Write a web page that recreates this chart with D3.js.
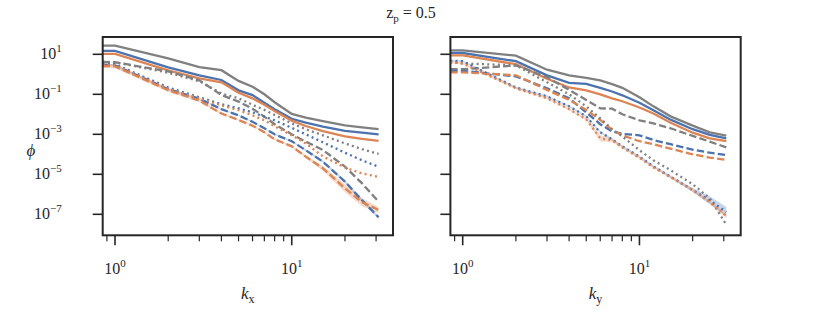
<!DOCTYPE html>
<html>
<head>
<meta charset="utf-8">
<script src="https://cdn.jsdelivr.net/npm/d3@7"></script>
<style>
  body { margin: 0; background: #fff; }
  svg text { font-family: "Liberation Serif", "DejaVu Serif", serif; fill: #262626; }
</style>
</head>
<body>
<div id="chart"></div>
<script>
// wavenumbers (first point sits at the left edge of the axis)
const kValues = [0.85, 1, 2, 3, 4, 5, 6, 7, 8, 10, 12, 15, 20, 25, 31];

// --- k_x panel ---
const kxGraySolid   = [27, 27, 6.3, 2.3, 1.6, 0.47, 0.24, 0.1, 0.04, 1.05e-2, 6.8e-3, 4.5e-3, 2.8e-3, 2.2e-3, 1.8e-3];
const kxBlueSolid   = [14.8, 14.8, 2.24, 0.89, 0.52, 0.158, 0.091, 0.038, 0.018, 6.0e-3, 3.8e-3, 2.4e-3, 1.5e-3, 1.2e-3, 1.0e-3];
const kxOrangeSolid = [10.5, 10.5, 1.58, 0.63, 0.4, 0.12, 0.063, 0.03, 0.0145, 4.8e-3, 2.6e-3, 1.45e-3, 7.9e-4, 5.9e-4, 4.7e-4];
const kxGrayDash    = [4.2, 4.0, 1.4, 0.5, 0.093, 0.043, 0.019, 7.6e-3, 3.2e-3, 1.0e-3, 4.3e-4, 1.66e-4, 2.4e-5, 3.5e-6, 4.3e-7];
const kxBlueDash    = [3.0, 2.8, 0.18, 0.06, 0.018, 8.9e-3, 4.2e-3, 2.0e-3, 1.0e-3, 4.5e-4, 1.6e-4, 4.3e-5, 4.3e-6, 5.0e-7, 7.1e-8];
const kxOrangeDash  = [2.6, 2.5, 0.16, 0.048, 0.011, 5.2e-3, 2.7e-3, 1.26e-3, 5.6e-4, 2.5e-4, 7.6e-5, 2.0e-5, 2.0e-6, 4.0e-7, 1.66e-7];
const kxGrayDot     = [4.2, 4.0, 1.2, 0.45, 0.11, 0.063, 0.03, 0.0166, 9.3e-3, 3.5e-3, 1.8e-3, 8.9e-4, 3.5e-4, 1.8e-4, 1.05e-4];
const kxBlueDot     = [3.3, 3.2, 0.22, 0.071, 0.032, 0.02, 0.0126, 7.6e-3, 5.0e-3, 2.1e-3, 1.0e-3, 4.0e-4, 1.2e-4, 5.0e-5, 2.4e-5];
const kxOrangeDot   = [3.0, 2.8, 0.19, 0.063, 0.028, 0.016, 8.9e-3, 5.0e-3, 2.5e-3, 8.9e-4, 3.5e-4, 7.9e-5, 2.2e-5, 1.1e-5, 7.4e-6];

// --- k_y panel ---
const kyGraySolid   = [15.8, 15.8, 8.5, 1.7, 0.89, 0.66, 0.5, 0.32, 0.21, 0.071, 0.025, 7.9e-3, 2.7e-3, 1.26e-3, 8.7e-4];
const kyBlueSolid   = [11.7, 11.6, 4.5, 0.89, 0.37, 0.33, 0.21, 0.138, 0.089, 0.038, 0.0158, 5.4e-3, 1.8e-3, 9.3e-4, 6.3e-4];
const kyOrangeSolid = [8.9, 8.9, 3.2, 0.6, 0.22, 0.158, 0.1, 0.063, 0.045, 0.022, 0.011, 3.8e-3, 1.2e-3, 6.3e-4, 4.6e-4];
const kyGrayDash    = [1.8, 1.8, 2.8, 0.71, 0.166, 0.052, 0.02, 0.019, 0.01, 5.0e-3, 3.5e-3, 2.0e-3, 8.3e-4, 4.3e-4, 2.2e-4];
const kyBlueDash    = [1.5, 1.5, 0.79, 0.2, 0.063, 0.0126, 3.2e-3, 1.4e-3, 1.05e-3, 8.9e-4, 5.2e-4, 3.2e-4, 1.7e-4, 1.2e-4, 9.2e-5];
const kyOrangeDash  = [1.26, 1.26, 0.89, 0.166, 0.052, 0.0166, 5.2e-3, 1.66e-3, 8.9e-4, 4.5e-4, 3.2e-4, 1.9e-4, 1.0e-4, 6.8e-5, 5.2e-5];
const kyGrayDot     = [4.0, 3.5, 2.8, 0.4, 0.1, 0.025, 6.3e-3, 1.8e-3, 7.9e-4, 1.6e-4, 5.0e-5, 1.6e-5, 3.2e-6, 6.3e-7, 3.0e-8];
const kyBlueDot     = [4.8, 4.5, 0.22, 0.079, 0.025, 7.9e-3, 1.26e-3, 5.6e-4, 2.5e-4, 7.6e-5, 2.5e-5, 7.6e-6, 1.66e-6, 5.0e-7, 1.3e-7];
const kyOrangeDot   = [4.0, 3.5, 0.2, 0.063, 0.018, 5.6e-3, 6.3e-4, 5.0e-4, 2.2e-4, 6.6e-5, 2.2e-5, 7.1e-6, 1.6e-6, 4.0e-7, 8.3e-8];

// spread of the shaded bands, in decades either side of the line
const kxOrangeDashBand = [0.1, 0.1, 0.09, 0.07, 0.05, 0.04, 0.04, 0.04, 0.04, 0.05, 0.07, 0.12, 0.2, 0.2, 0.15];
const kxBlueDashBand   = [0.06, 0.06, 0.06, 0.05, 0.04, 0.03, 0.03, 0.03, 0.03, 0.04, 0.05, 0.06, 0.08, 0.08, 0.08];
const kyOrangeDotBand  = [0.05, 0.05, 0.05, 0.05, 0.05, 0.06, 0.16, 0.08, 0.05, 0.05, 0.05, 0.05, 0.06, 0.08, 0.1];
const kyBlueDotBand    = [0.04, 0.04, 0.04, 0.04, 0.04, 0.04, 0.05, 0.05, 0.05, 0.05, 0.05, 0.06, 0.1, 0.2, 0.25];

const yTicks = [1e1, 1e-1, 1e-3, 1e-5, 1e-7];
const xMajorTicks = [1, 10];
const xMinorTicks = [0.9, 2, 3, 4, 5, 6, 7, 8, 9, 20, 30];

const colors = { gray: '#808080', blue: '#4c72b0', orange: '#dd8452' };
const dashes = { solid: null, dash: '7.4,3.2', dot: '2,3.3' };

const panels = [
  {
    axis: 'x', left: 102.7,
    series: [
      { c: 'gray', s: 'solid', v: kxGraySolid }, { c: 'blue', s: 'solid', v: kxBlueSolid }, { c: 'orange', s: 'solid', v: kxOrangeSolid },
      { c: 'gray', s: 'dash', v: kxGrayDash }, { c: 'blue', s: 'dash', v: kxBlueDash, band: kxBlueDashBand },
      { c: 'orange', s: 'dash', v: kxOrangeDash, band: kxOrangeDashBand },
      { c: 'gray', s: 'dot', v: kxGrayDot }, { c: 'blue', s: 'dot', v: kxBlueDot }, { c: 'orange', s: 'dot', v: kxOrangeDot },
    ],
  },
  {
    axis: 'y', left: 450.4,
    series: [
      { c: 'gray', s: 'solid', v: kyGraySolid }, { c: 'blue', s: 'solid', v: kyBlueSolid }, { c: 'orange', s: 'solid', v: kyOrangeSolid },
      { c: 'gray', s: 'dash', v: kyGrayDash }, { c: 'blue', s: 'dash', v: kyBlueDash }, { c: 'orange', s: 'dash', v: kyOrangeDash },
      { c: 'gray', s: 'dot', v: kyGrayDot }, { c: 'blue', s: 'dot', v: kyBlueDot, band: kyBlueDotBand },
      { c: 'orange', s: 'dot', v: kyOrangeDot, band: kyOrangeDotBand },
    ],
  },
];

const width = 822, height = 313;
const plotTop = 37, plotW = 290.3, plotH = 198.3;
const ink = '#262626';

const svg = d3.select('#chart').append('svg').attr('width', width).attr('height', height);

const x = d3.scaleLog().domain([0.852, 37.4]).range([0, plotW]);
const y = d3.scaleLog().domain([Math.pow(10, -8.05), Math.pow(10, 1.865)]).range([plotH, 0]);

// "10^n" label helper
function powLabel(sel, v) {
  const e = Math.round(Math.log10(v));
  sel.append('tspan').text('10');
  sel.append('tspan').attr('dy', -7).attr('font-size', 11).text(e < 0 ? '\u2212' + (-e) : e);
}

panels.forEach((p, pi) => {
  const g = svg.append('g').attr('transform', `translate(${p.left},${plotTop})`);

  g.append('clipPath').attr('id', 'clip' + pi)
    .append('rect').attr('width', plotW).attr('height', plotH);
  const plot = g.append('g').attr('clip-path', `url(#clip${pi})`);

  const pts = (s) => kValues.map((k, i) => ({ k, v: s.v[i], w: s.band ? s.band[i] : 0 }));

  // shaded bands
  p.series.filter((s) => s.band).forEach((s) => {
    plot.append('path')
      .datum(pts(s))
      .attr('fill', colors[s.c])
      .attr('fill-opacity', 0.3)
      .attr('d', d3.area()
        .x((d) => x(d.k))
        .y0((d) => y(d.v * Math.pow(10, -d.w)))
        .y1((d) => y(d.v * Math.pow(10, d.w))));
  });

  const line = d3.line().x((d) => x(d.k)).y((d) => y(d.v));
  p.series.forEach((s) => {
    plot.append('path')
      .datum(pts(s))
      .attr('fill', 'none')
      .attr('stroke', colors[s.c])
      .attr('stroke-width', 2.3)
      .attr('stroke-dasharray', dashes[s.s])
      .attr('d', line);
  });

  // frame
  g.append('rect').attr('width', plotW).attr('height', plotH)
    .attr('fill', 'none').attr('stroke', ink).attr('stroke-width', 2);

  // x ticks
  g.selectAll('.xmaj').data(xMajorTicks).join('line')
    .attr('x1', (d) => x(d)).attr('x2', (d) => x(d))
    .attr('y1', plotH).attr('y2', plotH + 10)
    .attr('stroke', ink).attr('stroke-width', 1.6);
  g.selectAll('.xmin').data(xMinorTicks).join('line')
    .attr('x1', (d) => x(d)).attr('x2', (d) => x(d))
    .attr('y1', plotH).attr('y2', plotH + 6)
    .attr('stroke', ink).attr('stroke-width', 1.2);
  xMajorTicks.forEach((t) => {
    g.append('text').attr('x', x(t)).attr('y', plotH + 39)
      .attr('text-anchor', 'middle').attr('font-size', 16)
      .call(powLabel, t);
  });

  // y ticks
  g.selectAll('.ymaj').data(yTicks).join('line')
    .attr('x1', -10).attr('x2', 0)
    .attr('y1', (d) => y(d)).attr('y2', (d) => y(d))
    .attr('stroke', ink).attr('stroke-width', 1.6);
  if (pi === 0) {
    yTicks.forEach((t) => {
      g.append('text').attr('x', -41).attr('y', y(t) + 5)
        .attr('text-anchor', 'end').attr('font-size', 16)
        .call(powLabel, t);
    });
  }

  // axis label k_x / k_y
  const lab = g.append('text').attr('x', plotW / 2).attr('y', plotH + 64)
    .attr('text-anchor', 'middle').attr('font-size', 17);
  lab.append('tspan').attr('font-style', 'italic').text('k');
  lab.append('tspan').attr('dy', 4).attr('font-size', 12).text(p.axis);
});

// y label
svg.append('text').attr('x', 31).attr('y', 156)
  .attr('text-anchor', 'middle').attr('font-size', 17).attr('font-style', 'italic')
  .text('\u03d5');

// title
const title = svg.append('text').attr('x', 411).attr('y', 18)
  .attr('text-anchor', 'middle').attr('font-size', 16);
title.append('tspan').text('z');
title.append('tspan').attr('dy', 4).attr('font-size', 11).text('p');
title.append('tspan').attr('dy', -4).text(' = 0.5');
</script>
</body>
</html>
